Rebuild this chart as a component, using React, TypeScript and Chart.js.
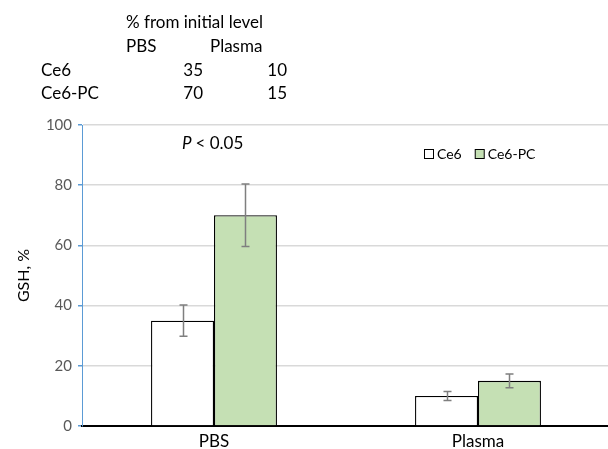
import React, { useEffect, useRef } from "react";
import { Chart, registerables } from "chart.js";

Chart.register(...registerables);

const categories = ["PBS", "Plasma"];
const seriesNames = ["Ce6", "Ce6-PC"];
const ce6Values = [35, 10];
const ce6pcValues = [70, 15];
const ce6Errors = [5.2, 1.5];
const ce6pcErrors = [10.4, 2.3];
const yTicks = [0, 20, 40, 60, 80, 100];
const tableTitle = "% from initial level";
const pText = "< 0.05";

const FONT = "Lato, 'Open Sans', sans-serif";
const fillColors = ["#ffffff", "#c5e0b4"];
const errs = [ce6Errors, ce6pcErrors];

const overlayPlugin = {
  id: "overlay",
  afterDatasetsDraw(chart: any) {
    const ctx = chart.ctx;
    const yScale = chart.scales.y;
    ctx.save();
    ctx.strokeStyle = "#7f7f7f";
    ctx.lineWidth = 1.5;
    chart.data.datasets.forEach((ds: any, i: number) => {
      const meta = chart.getDatasetMeta(i);
      meta.data.forEach((el: any, j: number) => {
        const v = ds.data[j];
        const e = errs[i][j];
        const x = Math.round(el.x) + 0.5;
        const yt = yScale.getPixelForValue(v + e);
        const yb = yScale.getPixelForValue(v - e);
        ctx.beginPath();
        ctx.moveTo(x, yt);
        ctx.lineTo(x, yb);
        ctx.moveTo(x - 4, yt);
        ctx.lineTo(x + 4, yt);
        ctx.moveTo(x - 4, yb);
        ctx.lineTo(x + 4, yb);
        ctx.stroke();
      });
    });
    ctx.restore();
  },
  afterDraw(chart: any) {
    const ctx = chart.ctx;
    ctx.save();
    ctx.fillStyle = "#000000";
    ctx.textBaseline = "middle";
    // table
    ctx.font = `17px ${FONT}`;
    ctx.textAlign = "left";
    ctx.fillText(tableTitle, 126, 23);
    ctx.fillText(categories[0], 126, 47);
    ctx.fillText(categories[1], 210, 47);
    const rows = [ce6Values, ce6pcValues];
    const rowY = [71, 94];
    rows.forEach((vals, r) => {
      ctx.textAlign = "left";
      ctx.fillText(seriesNames[r], 41, rowY[r]);
      ctx.textAlign = "right";
      ctx.fillText(String(vals[0]), 203, rowY[r]);
      ctx.fillText(String(vals[1]), 287, rowY[r]);
    });
    // P < 0.05
    ctx.textAlign = "left";
    ctx.font = `italic 17px ${FONT}`;
    ctx.fillText("P", 182, 144);
    const pw = ctx.measureText("P ").width;
    ctx.font = `17px ${FONT}`;
    ctx.fillText(pText, 182 + pw, 144);
    // legend
    ctx.font = `14px ${FONT}`;
    let lx = 424;
    const ly = 154;
    seriesNames.forEach((name, i) => {
      ctx.fillStyle = fillColors[i];
      ctx.fillRect(lx + 0.5, ly - 4.5, 9, 9);
      ctx.strokeStyle = "#000000";
      ctx.lineWidth = 1;
      ctx.strokeRect(lx + 0.5, ly - 4.5, 9, 9);
      ctx.fillStyle = "#000000";
      ctx.fillText(name, lx + 13, ly);
      lx += 13 + ctx.measureText(name).width + 13;
    });
    ctx.restore();
  },
};

export default function App() {
  const ref = useRef<HTMLCanvasElement | null>(null);
  useEffect(() => {
    document.body.style.margin = "0";
    const canvas = ref.current!;
    const chart = new Chart(canvas, {
      type: "bar",
      data: {
        labels: categories,
        datasets: [
          {
            label: seriesNames[0],
            data: ce6Values,
            backgroundColor: fillColors[0],
            borderColor: "#000000",
            borderWidth: 1.3,
          },
          {
            label: seriesNames[1],
            data: ce6pcValues,
            backgroundColor: fillColors[1],
            borderColor: "#000000",
            borderWidth: 1.3,
          },
        ],
      },
      options: {
        responsive: false,
        animation: false,
        devicePixelRatio: 1,
        layout: { padding: { top: 125, right: 0, left: 0, bottom: 0 } },
        datasets: { bar: { barPercentage: 1, categoryPercentage: 0.477 } } as any,
        plugins: {
          legend: { display: false },
          tooltip: { enabled: false },
          title: { display: false },
        },
        scales: {
          x: {
            grid: { display: false, drawTicks: false },
            border: { display: true, color: "#000000", width: 2 },
            ticks: { color: "#000000", font: { family: FONT, size: 17 }, padding: 5 },
            afterFit: (s: any) => {
              s.height = 23;
            },
          },
          y: {
            min: 0,
            max: 100,
            afterBuildTicks: (s: any) => {
              s.ticks = yTicks.map((v) => ({ value: v }));
            },
            grid: { color: "#d9d9d9", lineWidth: 1.5, tickLength: 4, tickColor: "#5b9bd5" },
            border: { display: true, color: "#5b9bd5", width: 1 },
            ticks: { color: "#595959", font: { family: FONT, size: 15 }, padding: 6 },
            title: {
              display: true,
              text: "GSH, %",
              color: "#000000",
              font: { family: FONT, size: 16 },
              padding: { top: 14, bottom: 0 },
            },
            afterFit: (s: any) => {
              s.width = 82;
            },
          },
        },
      },
      plugins: [overlayPlugin],
    });
    return () => chart.destroy();
  }, []);
  return (
    <div style={{ position: "absolute", left: 0, top: 0, width: 608, height: 449, overflow: "hidden", background: "#ffffff" }}>
      <canvas ref={ref} width={610} height={449} style={{ display: "block" }} />
    </div>
  );
}
